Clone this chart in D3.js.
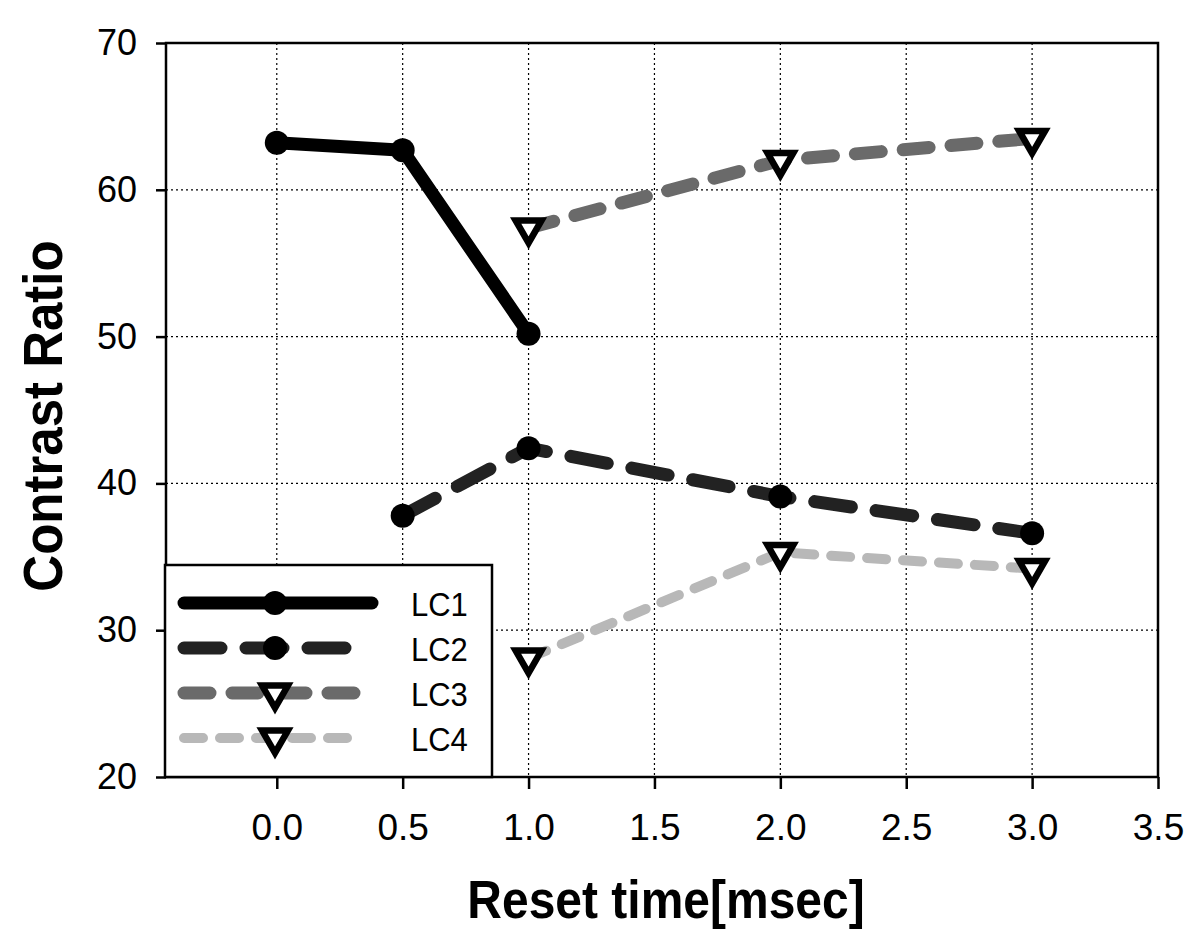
<!DOCTYPE html>
<html>
<head>
<meta charset="utf-8">
<script src="https://cdn.jsdelivr.net/npm/d3@7"></script>
<style>
  body { margin: 0; background: #fff; }
  svg { font-family: "Liberation Sans", Arial, sans-serif; }
</style>
</head>
<body>
<svg id="chart" width="1191" height="935"></svg>
<script>
let width = 1191,
    height = 935;

// data
let xTicks = [0.0, 0.5, 1.0, 1.5, 2.0, 2.5, 3.0, 3.5]
let yTicks = [20, 30, 40, 50, 60, 70]
let seriesNames = ["LC1", "LC2", "LC3", "LC4"]
let lc1 = [[0.0, 63.2], [0.5, 62.7], [1.0, 50.2]]
let lc2 = [[0.5, 37.8], [1.0, 42.4], [2.0, 39.1], [3.0, 36.6]]
let lc3 = [[1.0, 57.4], [2.0, 62.0], [3.0, 63.5]]
let lc4 = [[1.0, 28.1], [2.0, 35.3], [3.0, 34.2]]

let styles = [
    { color: "#000", width: 13, dash: null, marker: "circle" },
    { color: "#222", width: 13, dash: "37,25", marker: "circle" },
    { color: "#6a6a6a", width: 13, dash: "26,22", marker: "triangle" },
    { color: "#b8b8b8", width: 10, dash: "19,17", marker: "triangle" }
]
let allSeries = [lc1, lc2, lc3, lc4]

let svg = d3.select("#chart")

let plotLeft = 166, plotRight = 1158, plotTop = 43, plotBottom = 777

let xScale = d3.scaleLinear()
    .domain([-0.44, 3.5])
    .range([plotLeft, plotRight])
let yScale = d3.scaleLinear()
    .domain([20, 70])
    .range([plotBottom, plotTop])

// grid
svg.append("g")
    .selectAll("line")
    .data(yTicks.filter(d => d > 20 && d < 70))
    .enter()
    .append("line")
    .attr("x1", plotLeft).attr("x2", plotRight)
    .attr("y1", d => yScale(d)).attr("y2", d => yScale(d))
    .attr("stroke", "#000")
    .attr("stroke-width", 1.2)
    .attr("stroke-dasharray", "2,3")

svg.append("g")
    .selectAll("line")
    .data(xTicks.filter(d => d < 3.5))
    .enter()
    .append("line")
    .attr("x1", d => xScale(d)).attr("x2", d => xScale(d))
    .attr("y1", plotTop).attr("y2", plotBottom)
    .attr("stroke", "#000")
    .attr("stroke-width", 1.2)
    .attr("stroke-dasharray", "2,3")

// axes
let xAxis = svg.append("g")
    .attr("transform", "translate(0," + plotBottom + ")")
    .call(d3.axisBottom(xScale)
        .tickValues(xTicks)
        .tickFormat(d3.format(".1f"))
        .tickSize(12)
        .tickPadding(25))
let yAxis = svg.append("g")
    .attr("transform", "translate(" + plotLeft + ",0)")
    .call(d3.axisLeft(yScale)
        .tickValues(yTicks)
        .tickSize(10)
        .tickPadding(19))

svg.selectAll(".domain").remove()
svg.selectAll(".tick line").attr("stroke", "#000").attr("stroke-width", 2.5)
svg.selectAll(".tick text")
    .attr("fill", "#000")
    .attr("font-family", "'Liberation Sans', Arial, sans-serif")
xAxis.selectAll(".tick text").attr("font-size", "37px")
yAxis.selectAll(".tick text").attr("font-size", "36px")

// frame
svg.append("rect")
    .attr("x", plotLeft).attr("y", plotTop)
    .attr("width", plotRight - plotLeft).attr("height", plotBottom - plotTop)
    .attr("fill", "none")
    .attr("stroke", "#000")
    .attr("stroke-width", 2.5)

let line = d3.line()
    .x(d => xScale(d[0]))
    .y(d => yScale(d[1]))

let triangle = d3.symbol().type(d3.symbolTriangle).size(290)

function drawMarker(g, type, x, y) {
    if (type == "circle") {
        g.append("circle")
            .attr("cx", x).attr("cy", y)
            .attr("r", 12)
            .attr("fill", "#000")
    } else {
        g.append("path")
            .attr("d", triangle)
            .attr("transform", "translate(" + x + "," + y + ") rotate(180)")
            .attr("fill", "#fff")
            .attr("stroke", "#000")
            .attr("stroke-width", 6.5)
            .attr("stroke-linejoin", "miter")
    }
}

allSeries.forEach((data, i) => {
    let s = styles[i]
    svg.append("path")
        .datum(data)
        .attr("d", line)
        .attr("fill", "none")
        .attr("stroke", s.color)
        .attr("stroke-width", s.width)
        .attr("stroke-linecap", "round")
        .attr("stroke-linejoin", "round")
        .attr("stroke-dasharray", s.dash)
    let g = svg.append("g")
    data.forEach(d => drawMarker(g, s.marker, xScale(d[0]), yScale(d[1])))
})

// legend
let legend = svg.append("g")
legend.append("rect")
    .attr("x", 165).attr("y", 565)
    .attr("width", 327).attr("height", plotBottom - 565)
    .attr("fill", "#fff")
    .attr("stroke", "#000")
    .attr("stroke-width", 2.5)

let legendEnds = [372, 350, 364, 356]
seriesNames.forEach((name, i) => {
    let s = styles[i]
    let y = 603 + i * 45
    legend.append("line")
        .attr("x1", 184).attr("x2", legendEnds[i])
        .attr("y1", y).attr("y2", y)
        .attr("stroke", s.color)
        .attr("stroke-width", s.width)
        .attr("stroke-linecap", "round")
        .attr("stroke-dasharray", s.dash)
    drawMarker(legend, s.marker, 275, y)
    legend.append("text")
        .attr("transform", "translate(411," + (y + 13) + ") scale(1,1.1)")
        .attr("font-size", "31px")
        .attr("fill", "#000")
        .text(name)
})

// titles
svg.append("text")
    .attr("transform", "translate(666,918) scale(1,1.12)")
    .attr("text-anchor", "middle")
    .attr("font-size", "48px")
    .attr("font-weight", 700)
    .text("Reset time[msec]")

svg.append("text")
    .attr("transform", "translate(62,416) rotate(-90) scale(1,1.1)")
    .attr("text-anchor", "middle")
    .attr("font-size", "51px")
    .attr("font-weight", 700)
    .text("Contrast Ratio")
</script>
</body>
</html>
